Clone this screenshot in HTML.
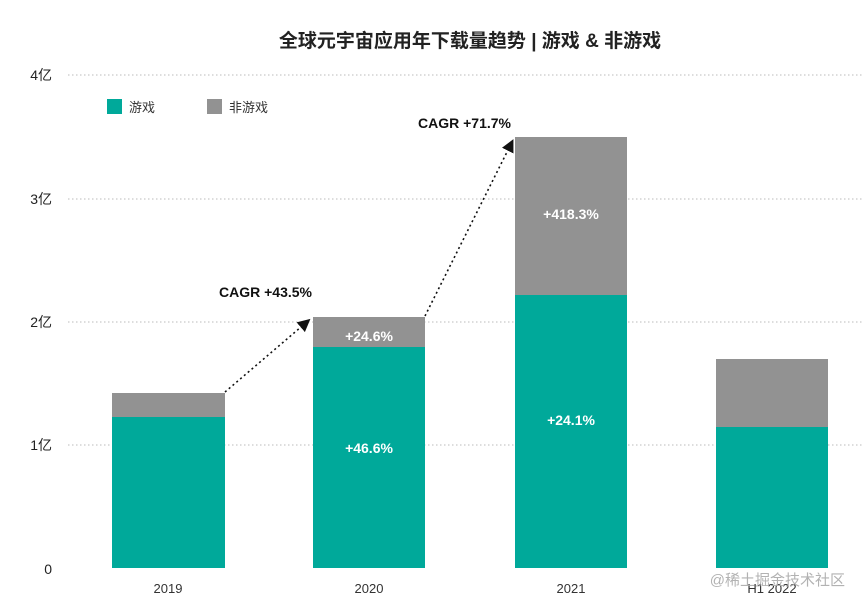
<!DOCTYPE html>
<html><head><meta charset="utf-8"><style>
html,body{margin:0;padding:0;background:#fff;}
svg{display:block;font-family:"Liberation Sans","Noto Sans CJK SC",sans-serif;}
</style></head><body>
<svg width="863" height="609" viewBox="0 0 863 609" xmlns="http://www.w3.org/2000/svg">
<defs><marker id="ar" markerWidth="8" markerHeight="8" refX="6" refY="4" orient="auto"><path d="M0,0 L8,4 L0,8 z" fill="#111"/></marker></defs>
<text x="470" y="47" text-anchor="middle" font-size="19" font-weight="bold" fill="#222">全球元宇宙应用年下载量趋势 | 游戏 &amp; 非游戏</text>
<g stroke="#bbb" stroke-width="1" stroke-dasharray="1.5,2.5">
<line x1="68" y1="75" x2="863" y2="75"/>
<line x1="68" y1="199" x2="863" y2="199"/>
<line x1="68" y1="322" x2="863" y2="322"/>
<line x1="68" y1="445" x2="863" y2="445"/>
</g>
<g font-size="14" fill="#222" text-anchor="end">
<text x="52" y="80">4亿</text><text x="52" y="204">3亿</text><text x="52" y="327">2亿</text><text x="52" y="450">1亿</text><text x="52" y="574">0</text>
</g>
<rect x="107" y="99" width="15" height="15" fill="#00a99a"/><text x="129" y="112" font-size="13" fill="#333">游戏</text>
<rect x="207" y="99" width="15" height="15" fill="#929292"/><text x="229" y="112" font-size="13" fill="#333">非游戏</text>
<rect x="112" y="393" width="113" height="24" fill="#929292"/><rect x="112" y="417" width="113" height="151" fill="#00a99a"/>
<rect x="313" y="317" width="112" height="30" fill="#929292"/><rect x="313" y="347" width="112" height="221" fill="#00a99a"/>
<rect x="515" y="137" width="112" height="158" fill="#929292"/><rect x="515" y="295" width="112" height="273" fill="#00a99a"/>
<rect x="716" y="359" width="112" height="68" fill="#929292"/><rect x="716" y="427" width="112" height="141" fill="#00a99a"/>
<g font-size="14" font-weight="bold" fill="#fff" text-anchor="middle">
<text x="369" y="341">+24.6%</text><text x="369" y="453">+46.6%</text>
<text x="571" y="219">+418.3%</text><text x="571" y="425">+24.1%</text>
</g>
<g stroke="#111" stroke-width="1.6" stroke-dasharray="2,3" fill="none">
<line x1="225" y1="392" x2="308" y2="321" marker-end="url(#ar)"/>
<line x1="425" y1="316" x2="512" y2="142" marker-end="url(#ar)"/>
</g>
<g font-size="14" font-weight="bold" fill="#111">
<text x="219" y="297">CAGR +43.5%</text><text x="418" y="128">CAGR +71.7%</text>
</g>
<g font-size="13" fill="#333" text-anchor="middle">
<text x="168" y="593">2019</text><text x="369" y="593">2020</text><text x="571" y="593">2021</text><text x="772" y="593">H1 2022</text>
</g>
<text x="845" y="585" text-anchor="end" font-size="15" fill="#aaa" opacity="0.9">@稀土掘金技术社区</text>
</svg>
</body></html>
